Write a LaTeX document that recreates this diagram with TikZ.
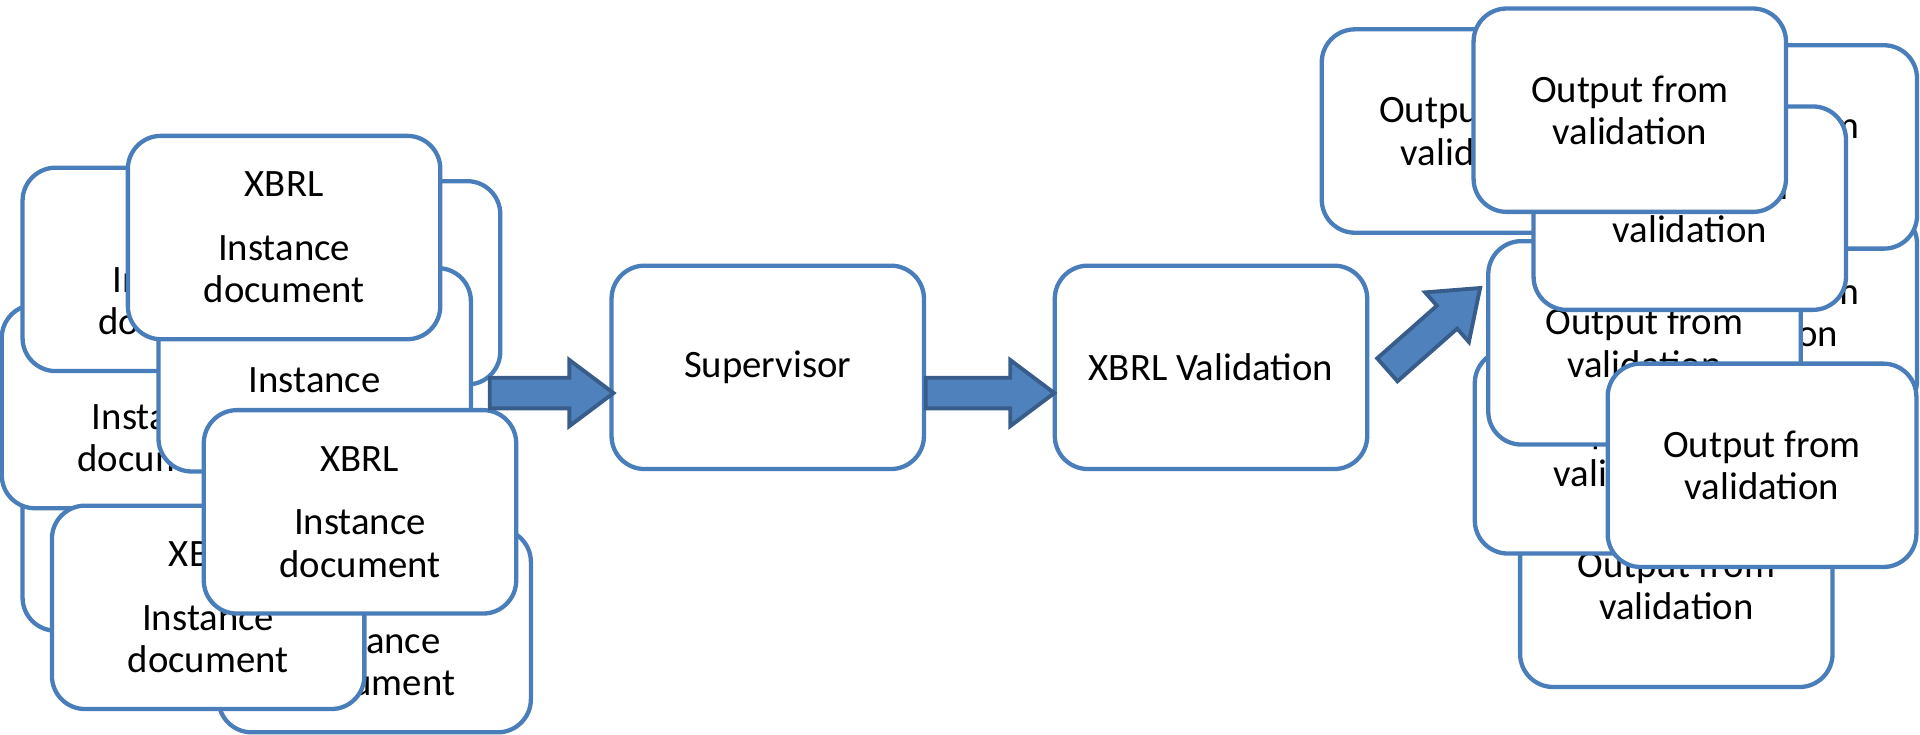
\documentclass[tikz,border=0pt]{standalone}
\usepackage{fontspec}
\setmainfont{Carlito}
\definecolor{boxline}{HTML}{4A7EBB}
\definecolor{arrowfill}{HTML}{4F81BD}
\definecolor{arrowline}{HTML}{385D8A}
\tikzset{
  card/.style={draw=boxline, fill=white, line width=1pt, rounded corners=0.27cm,
    minimum width=2.55cm, minimum height=1.66cm, inner sep=0pt, align=center,
    font=\fontsize{9}{9.9}\selectfont},
  arrowbody/.style={draw=arrowline, fill=arrowfill, line width=0.9pt, line join=miter},
  % block arrow along +x, tail centre at the origin, #1 = total length
  pics/blockarrow/.style={code={
    \draw[arrowbody] (0,-12.5) -- (#1-36,-12.5) -- (#1-36,-27) -- (#1,0)
      -- (#1-36,27) -- (#1-36,12.5) -- (0,12.5) -- cycle;
    \coordinate (-tip) at (#1,0);
  }},
}
\newcommand\xbrltext{XBRL\\[0.17cm]Instance\\document}
\newcommand\outtext{Output from\\validation}
\begin{document}
\begin{tikzpicture}[x=0.01cm, y=-0.01cm]
\useasboundingbox (0,0) rectangle (1568,600);

% stack of instance documents, back to front
\node[card] (docB) at (281,231) {\xbrltext};
\node[card] (docF) at (146,432) {\xbrltext};
\node[card] (docC) at (129,332) {\xbrltext};
\node[card] (docA) at (146,220) {\xbrltext};
\node[card] (docD) at (257,302) {\xbrltext};
\node[card] (docE) at (232,194) {\xbrltext};
\node[card] (docG) at (306,515) {\xbrltext};
\node[card] (docH) at (170,496) {\xbrltext};
\node[card] (docI) at (294,418) {\xbrltext};

% processing steps
\node[card] (sup) at (627,300) {Supervisor};
\node[card] (val) at (989,300) {XBRL Validation};

% stack of validation outputs, back to front
\node[card] (outR9) at (1369,478) {\outtext};
\node[card] (outR8) at (1332,369) {\outtext};
\node[card] (outR5) at (1438,255) {\outtext};
\node[card] (outR3) at (1438,120) {\outtext};
\node[card] (outR6) at (1343,280) {\outtext};
\node[card] (outR1) at (1207,107) {\outtext};
\node[card] (outR4) at (1380,170) {\outtext};
\node[card] (outR2) at (1331,90) {\outtext};
\node[card, minimum width=2.52cm] (outR10) at (1439,380) {\outtext};

% block arrows between the stages
\pic (arrA) at (400,321) {blockarrow=101};
\pic (arrB) at (756,321) {blockarrow=105};
\pic[rotate=41.4] (arrC) at (1133,302) {blockarrow=101};
\end{tikzpicture}
\end{document}
